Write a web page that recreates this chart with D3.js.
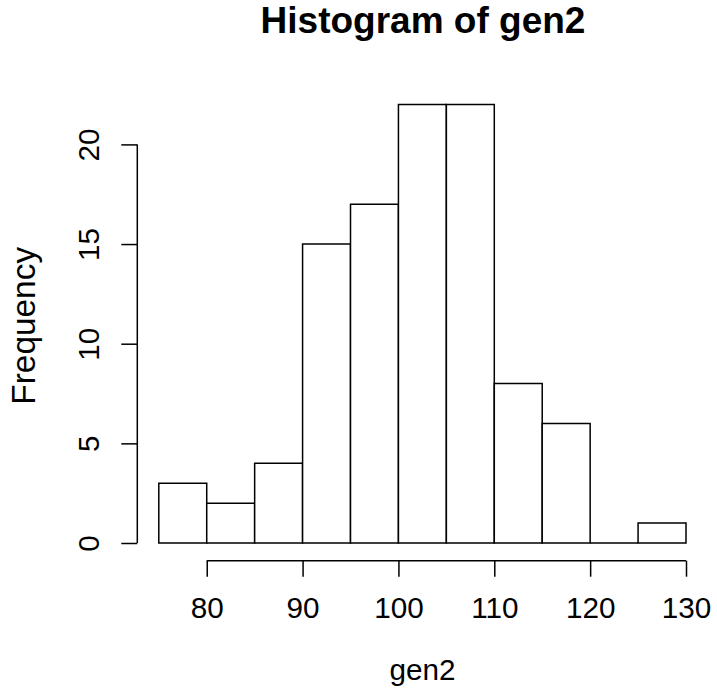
<!DOCTYPE html>
<html>
<head>
<meta charset="utf-8">
<script src="https://cdn.jsdelivr.net/npm/d3@7"></script>
<style>
  body { margin: 0; background: #fff; }
  svg text { font-family: "Liberation Sans", Arial, sans-serif; fill: #000; }
</style>
</head>
<body>
<div id="chart"></div>
<script>
// histogram bins (left edges) and counts
const binStarts = [75, 80, 85, 90, 95, 100, 105, 110, 115, 120, 125];
const binWidth = 5;
const counts = [3, 2, 4, 15, 17, 22, 22, 8, 6, 0, 1];
const xTicks = [80, 90, 100, 110, 120, 130];
const yTicks = [0, 5, 10, 15, 20];

const W = 717, H = 694;

const svg = d3.select("#chart").append("svg")
    .attr("width", W)
    .attr("height", H);

// scales
const x = d3.scaleLinear().domain([75, 130]).range([158.8, 686]);
const y = d3.scaleLinear().domain([0, 20]).range([543, 144.4]);

const xAxisY = 560.7, yAxisX = 137.3;
const fs = 29.7;

// bars drawn as closed paths so an empty bin still shows its base line
svg.selectAll("path.bar")
    .data(binStarts.map((s, i) => ({start: s, count: counts[i]})))
    .enter()
    .append("path")
    .attr("class", "bar")
    .attr("d", d => {
        const x0 = x(d.start), x1 = x(d.start + binWidth);
        const y0 = y(0), y1 = y(d.count);
        return "M" + x0 + "," + y0 + "L" + x0 + "," + y1 + "L" + x1 + "," + y1 + "L" + x1 + "," + y0 + "Z";
    })
    .attr("fill", "#fff")
    .attr("stroke", "#000")
    .attr("stroke-width", 1.5);

// x axis
const xAxis = d3.axisBottom(x).tickValues(xTicks).tickSize(16).tickSizeOuter(0);
const gx = svg.append("g")
    .attr("transform", "translate(0," + xAxisY + ")")
    .call(xAxis);
gx.select(".domain")
    .attr("d", "M" + x(xTicks[0]) + ",0H" + x(xTicks[xTicks.length - 1]));
gx.selectAll("line, .domain").attr("stroke", "#000").attr("stroke-width", 1.5);
gx.selectAll("text")
    .attr("y", 57)
    .attr("dy", null)
    .attr("font-size", fs)
    .attr("font-family", "Liberation Sans, Arial, sans-serif");

// y axis
const yAxis = d3.axisLeft(y).tickValues(yTicks).tickSize(16).tickSizeOuter(0);
const gy = svg.append("g")
    .attr("transform", "translate(" + yAxisX + ",0)")
    .call(yAxis);
gy.select(".domain")
    .attr("d", "M0," + y(yTicks[0]) + "V" + y(yTicks[yTicks.length - 1]));
gy.selectAll("line, .domain").attr("stroke", "#000").attr("stroke-width", 1.5);
gy.selectAll("text")
    .attr("x", 0)
    .attr("dy", null)
    .attr("text-anchor", "middle")
    .attr("transform", "translate(-38,0) rotate(-90)")
    .attr("font-size", fs)
    .attr("font-family", "Liberation Sans, Arial, sans-serif");

// title and axis labels
svg.append("text")
    .attr("x", 423)
    .attr("y", 33.3)
    .attr("text-anchor", "middle")
    .attr("font-weight", "bold")
    .attr("font-size", 37)
    .text("Histogram of gen2");

svg.append("text")
    .attr("x", 422.5)
    .attr("y", 680.3)
    .attr("text-anchor", "middle")
    .attr("font-size", fs)
    .text("gen2");

svg.append("text")
    .attr("transform", "translate(35,325.8) rotate(-90)")
    .attr("text-anchor", "middle")
    .attr("font-size", 33.4)
    .text("Frequency");
</script>
</body>
</html>
